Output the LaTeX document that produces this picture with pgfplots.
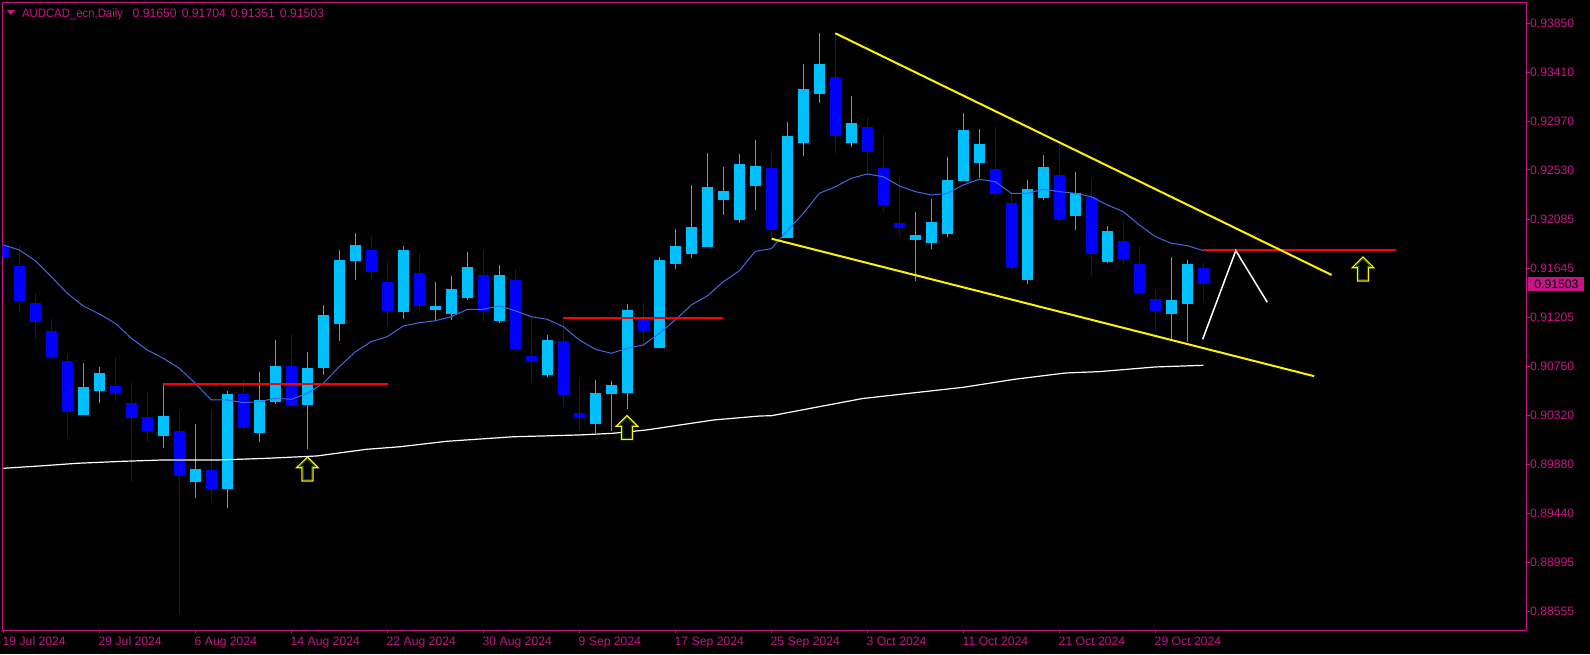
\documentclass[border=0pt]{standalone}
\usepackage{graphicx}
\usepackage{pgfplots}
\pgfplotsset{compat=1.18}
\usepackage{fontspec}
\setmainfont{Liberation Sans}
\definecolor{mvr}{RGB}{199,21,133}
\definecolor{bull}{RGB}{0,191,255}
\definecolor{bear}{RGB}{0,0,255}
\definecolor{maBlue}{RGB}{65,105,225}
\definecolor{arrgreen}{RGB}{40,110,0}
% candle: index, open, high, low, close
\newcommand{\bc}[5]{%
  \addplot[bull, line width=0.5pt] coordinates {(#1,#4) (#1,#3)};
  \addplot[bull, line width=5.5pt] coordinates {(#1,#2) (#1,#5)};}
\newcommand{\rc}[5]{%
  \addplot[bear, line width=0.5pt] coordinates {(#1,#4) (#1,#3)};
  \addplot[bear, line width=5.5pt] coordinates {(#1,#2) (#1,#5)};}
\newcommand{\uparrowmark}[2]{%
  \draw[yellow, line width=0.6pt, fill=black, line join=miter] (axis cs:#1,#2) -- ++(5.4pt,-5.35pt) -- ++(-2.65pt,0pt) -- ++(0pt,-6.65pt) -- ++(-5.5pt,0pt) -- ++(0pt,6.65pt) -- ++(-2.65pt,0pt) -- cycle;
  \draw[arrgreen, line width=0.35pt, line join=miter] (axis cs:#1,#2) ++(0pt,-0.9pt) -- ++(3.9pt,-3.9pt) -- ++(-1.8pt,0pt) -- ++(0pt,-6.6pt) -- ++(-4.2pt,0pt) -- ++(0pt,6.6pt) -- ++(-1.8pt,0pt) -- cycle;}
\begin{document}
\begin{tikzpicture}[x=1pt,y=1pt]
\useasboundingbox (0,0) rectangle (795,327);
\fill[black] (0,0) rectangle (795,327);
\begin{axis}[
  at={(1.25pt,11.85pt)}, anchor=south west,
  scale only axis, width=762.1pt, height=313.8pt,
  xmin=-0.05, xmax=95.2125, ymin=0.88387, ymax=0.940354,
  axis line style={draw=mvr, line width=0.5pt},
  tick align=outside, major tick length=1.5pt,
  tick style={draw=mvr, line width=0.5pt},
  xtick pos=bottom, ytick pos=right,
  yticklabel pos=right,
  xtick={0,6,...,72},
  xticklabels={19 Jul 2024,29 Jul 2024,6 Aug 2024,14 Aug 2024,22 Aug 2024,30 Aug 2024,9 Sep 2024,17 Sep 2024,25 Sep 2024,3 Oct 2024,11 Oct 2024,21 Oct 2024,29 Oct 2024},
  ytick={0.88555,0.88995,0.89440,0.89880,0.90320,0.90760,0.91205,0.91645,0.92085,0.92530,0.92970,0.93410,0.93850},
  yticklabels={0.88555,0.88995,0.89440,0.89880,0.90320,0.90760,0.91205,0.91645,0.92085,0.92530,0.92970,0.93410,0.93850},
  ticklabel style={font=\fontsize{6.1pt}{7pt}\selectfont, text=mvr, inner sep=0pt},
  xticklabel style={anchor=north west, xshift=-0.5pt, yshift=-1.65pt},
  yticklabel style={anchor=west},
]
% bearish candles
\rc{0}{0.91855}{0.91936}{0.91726}{0.91749}
\rc{1}{0.91666}{0.91855}{0.91254}{0.91353}
\rc{2}{0.91333}{0.91423}{0.91011}{0.91164}
\rc{3}{0.91081}{0.91189}{0.90826}{0.90849}
\rc{4}{0.90811}{0.90874}{0.90129}{0.90354}
\rc{7}{0.90586}{0.90847}{0.90451}{0.90525}
\rc{8}{0.90433}{0.90613}{0.89724}{0.90300}
\rc{9}{0.90307}{0.90532}{0.90075}{0.90183}
\rc{11}{0.90181}{0.90361}{0.88531}{0.89778}
\rc{13}{0.89830}{0.90370}{0.89553}{0.89659}
\rc{15}{0.90514}{0.90640}{0.90183}{0.90210}
\rc{18}{0.90766}{0.91054}{0.90399}{0.90408}
\rc{23}{0.91810}{0.91936}{0.91551}{0.91614}
\rc{24}{0.91522}{0.91711}{0.91126}{0.91263}
\rc{26}{0.91603}{0.91783}{0.91263}{0.91308}
\rc{30}{0.91585}{0.91810}{0.91164}{0.91263}
\rc{32}{0.91540}{0.91639}{0.90894}{0.90921}
\rc{33}{0.90856}{0.91218}{0.90615}{0.90808}
\rc{35}{0.90991}{0.91200}{0.90399}{0.90507}
\rc{36}{0.90345}{0.90649}{0.90183}{0.90304}
\rc{40}{0.91189}{0.91333}{0.90948}{0.91083}
\rc{48}{0.92548}{0.92701}{0.91911}{0.91992}
\rc{52}{0.93367}{0.93760}{0.92685}{0.92838}
\rc{54}{0.92917}{0.93007}{0.92494}{0.92694}
\rc{55}{0.92548}{0.92845}{0.92154}{0.92217}
\rc{56}{0.92053}{0.92467}{0.91938}{0.92010}
\rc{62}{0.92536}{0.92926}{0.92280}{0.92316}
\rc{63}{0.92233}{0.92314}{0.91623}{0.91650}
\rc{66}{0.92485}{0.92764}{0.92055}{0.92082}
\rc{68}{0.92287}{0.92449}{0.91578}{0.91776}
\rc{70}{0.91891}{0.92080}{0.91677}{0.91729}
\rc{71}{0.91684}{0.91846}{0.91407}{0.91425}
\rc{72}{0.91369}{0.91459}{0.91083}{0.91263}
\rc{75}{0.91650}{0.91704}{0.91351}{0.91503}
% bullish candles
\bc{5}{0.90327}{0.90793}{0.90325}{0.90577}
\bc{6}{0.90543}{0.90757}{0.90435}{0.90703}
\bc{10}{0.90138}{0.90604}{0.90030}{0.90316}
\bc{12}{0.89724}{0.90244}{0.89580}{0.89839}
\bc{14}{0.89661}{0.90541}{0.89490}{0.90514}
\bc{16}{0.90165}{0.90712}{0.90084}{0.90460}
\bc{17}{0.90444}{0.91000}{0.90426}{0.90766}
\bc{19}{0.90417}{0.90892}{0.90021}{0.90748}
\bc{20}{0.90750}{0.91315}{0.90687}{0.91225}
\bc{21}{0.91146}{0.91810}{0.90993}{0.91720}
\bc{22}{0.91713}{0.91963}{0.91542}{0.91855}
\bc{25}{0.91254}{0.91846}{0.91189}{0.91810}
\bc{27}{0.91272}{0.91522}{0.91171}{0.91306}
\bc{28}{0.91236}{0.91576}{0.91182}{0.91459}
\bc{29}{0.91380}{0.91792}{0.91362}{0.91657}
\bc{31}{0.91173}{0.91675}{0.91155}{0.91585}
\bc{34}{0.90685}{0.91045}{0.90669}{0.91000}
\bc{37}{0.90246}{0.90640}{0.90165}{0.90523}
\bc{38}{0.90516}{0.90631}{0.90183}{0.90595}
\bc{39}{0.90525}{0.91324}{0.90381}{0.91270}
\bc{41}{0.90930}{0.91747}{0.90928}{0.91720}
\bc{42}{0.91686}{0.91999}{0.91641}{0.91846}
\bc{43}{0.91776}{0.92395}{0.91740}{0.92017}
\bc{44}{0.91837}{0.92683}{0.91835}{0.92377}
\bc{45}{0.92260}{0.92557}{0.92125}{0.92341}
\bc{46}{0.92080}{0.92674}{0.92053}{0.92584}
\bc{47}{0.92388}{0.92800}{0.92170}{0.92566}
\bc{49}{0.91918}{0.92962}{0.91916}{0.92836}
\bc{50}{0.92775}{0.93484}{0.92658}{0.93259}
\bc{51}{0.93216}{0.93763}{0.93135}{0.93484}
\bc{53}{0.92775}{0.93196}{0.92739}{0.92953}
\bc{57}{0.91902}{0.92152}{0.91531}{0.91945}
\bc{58}{0.91875}{0.92269}{0.91821}{0.92062}
\bc{59}{0.91956}{0.92647}{0.91929}{0.92440}
\bc{60}{0.92433}{0.93043}{0.92431}{0.92890}
\bc{61}{0.92595}{0.92899}{0.92460}{0.92764}
\bc{64}{0.91542}{0.92440}{0.91506}{0.92359}
\bc{65}{0.92280}{0.92665}{0.92262}{0.92557}
\bc{67}{0.92118}{0.92512}{0.91992}{0.92323}
\bc{69}{0.91704}{0.92026}{0.91695}{0.91981}
\bc{73}{0.91236}{0.91749}{0.91011}{0.91360}
\bc{74}{0.91326}{0.91720}{0.90984}{0.91684}
% moving average (blue)
\addplot[maBlue, line width=0.5pt] coordinates {
(0,0.91855) (1,0.91810) (2,0.91713) (3,0.91569) (4,0.91420) (5,0.91306) (6,0.91234) (7,0.91150)
(8,0.91015) (9,0.90910) (10,0.90835) (11,0.90745) (12,0.90610) (13,0.90460) (14,0.90460) (15,0.90436)
(16,0.90445) (17,0.90475) (18,0.90466) (19,0.90520) (20,0.90610) (21,0.90760) (22,0.90894) (23,0.90985)
(24,0.91030) (25,0.91126) (26,0.91155) (27,0.91173) (28,0.91209) (29,0.91276) (30,0.91276) (31,0.91306)
(32,0.91263) (33,0.91209) (34,0.91186) (35,0.91120) (36,0.91000) (37,0.90916) (38,0.90880) (39,0.90925)
(40,0.90955) (41,0.91060) (42,0.91180) (43,0.91315) (44,0.91396) (45,0.91524) (46,0.91623) (47,0.91798)
(48,0.91821) (49,0.91983) (50,0.92140) (51,0.92320) (52,0.92379) (53,0.92455) (54,0.92494) (55,0.92469)
(56,0.92386) (57,0.92335) (58,0.92305) (59,0.92320) (60,0.92395) (61,0.92446) (62,0.92424) (63,0.92320)
(64,0.92320) (65,0.92356) (66,0.92335) (67,0.92320) (68,0.92289) (69,0.92215) (70,0.92155) (71,0.92035)
(72,0.91930) (73,0.91870) (74,0.91849) (75,0.91804)};
% moving average (white)
\addplot[white, line width=0.6pt] coordinates {
(0,0.89845) (2.5,0.89868) (4.6,0.89890) (7.5,0.89908) (10,0.89920) (13.5,0.89920) (16.5,0.89935)
(19.6,0.89956) (22.7,0.90016) (24.8,0.90039) (27.7,0.90088) (31.9,0.90129) (36,0.90145) (38.1,0.90160)
(40.2,0.90190) (44.4,0.90280) (47.3,0.90316) (48,0.90318) (53.7,0.90473) (60,0.90574) (63.2,0.90646)
(66.4,0.90703) (68.5,0.90715) (72,0.90757) (75,0.90772)};
% red levels
\addplot[red, line width=1pt] coordinates {(10,0.90606) (24.03,0.90606)};
\addplot[red, line width=1pt] coordinates {(35,0.91198) (45,0.91198)};
\addplot[red, line width=1pt] coordinates {(75,0.91812) (87.03,0.91812)};
% yellow channel
\addplot[yellow, line width=1pt] coordinates {(52.0,0.93760) (83.02,0.91585)};
\addplot[yellow, line width=1pt] coordinates {(48.02,0.91911) (81.93,0.90674)};
% white projection
\addplot[white, line width=0.75pt] coordinates {(74.96,0.91006) (77.03,0.91804) (79.0,0.91339)};
% arrows
\uparrowmark{19.01}{0.89947}
\uparrowmark{38.98}{0.90320}
\uparrowmark{84.98}{0.91747}
\end{axis}
% header
\fill[mvr] (3.35,322) -- (7.5,322) -- (5.4,319.5) -- cycle;
\node[anchor=base west, inner sep=0pt, text=mvr, font=\fontsize{6.1pt}{7pt}\selectfont] at (10.85,318.35)
  {\scalebox{0.93}[1]{AUDCAD\_ecn,Daily}\hspace{4.85pt}0.91650\hspace{2.5pt}0.91704\hspace{2.5pt}0.91351\hspace{2.5pt}0.91503};
% current price box
\fill[mvr] (763.85,181.65) rectangle (792,188.35);
\node[anchor=west, inner sep=0pt, text=black, font=\fontsize{6.1pt}{7pt}\selectfont] at (767,185) {0.91503};
\end{tikzpicture}
\end{document}
